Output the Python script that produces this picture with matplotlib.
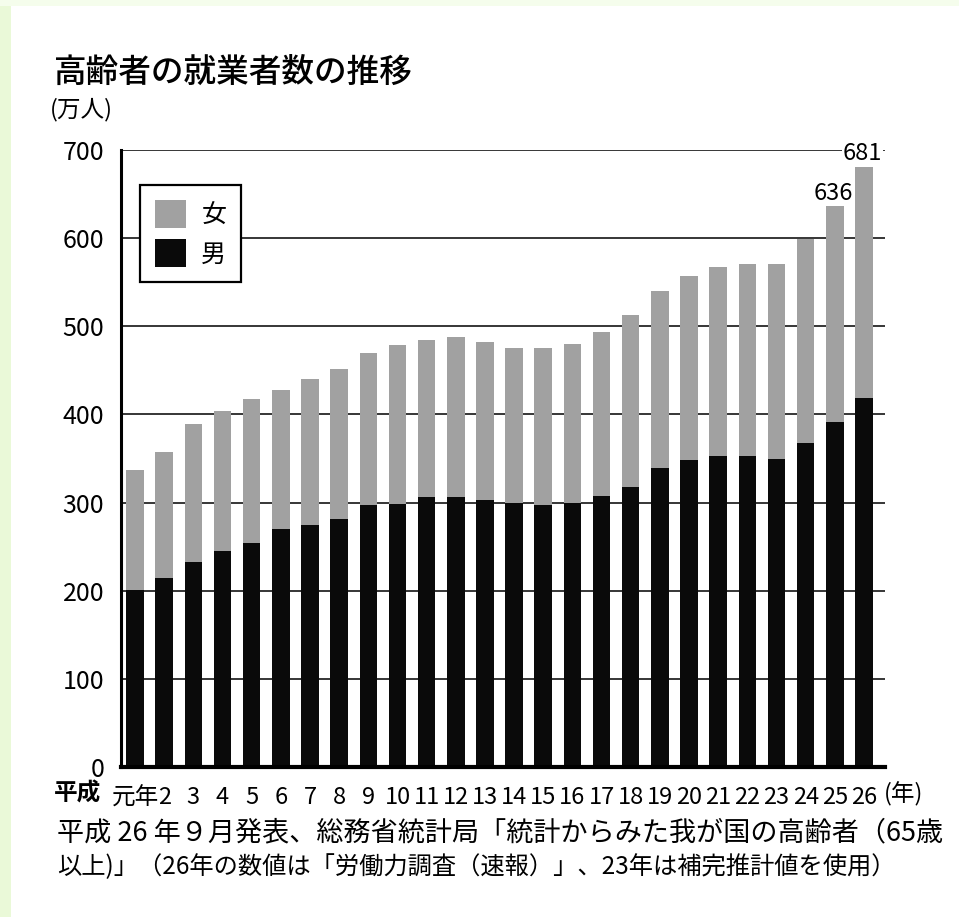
import matplotlib
matplotlib.use("Agg")
import matplotlib.pyplot as plt
from matplotlib.patches import Patch, Rectangle

plt.rcParams["font.family"] = ["Noto Sans CJK JP", "DejaVu Sans"]

# 平成元年〜26年 高齢者(65歳以上)の就業者数（万人）
years = ["元年", "2", "3", "4", "5", "6", "7", "8", "9", "10", "11", "12", "13",
         "14", "15", "16", "17", "18", "19", "20", "21", "22", "23", "24", "25", "26"]
male = [201, 214, 233, 245, 254, 270, 274, 281, 297, 298, 306, 306, 303,
        300, 297, 300, 307, 318, 339, 348, 353, 353, 349, 368, 391, 419]
female = [136, 143, 156, 159, 163, 158, 166, 171, 173, 181, 178, 182, 179,
          175, 178, 180, 187, 195, 201, 209, 214, 218, 222, 231, 245, 262]
labelled = {24: "636", 25: "681"}

GREY = "#a1a1a1"
BLACK = "#0a0a0a"

fig = plt.figure(figsize=(9.59, 9.17), dpi=100)
fig.patch.set_facecolor("white")
# 左端・上端の淡い緑の縁
fig.add_artist(Rectangle((0, 0), 11 / 959, 1, transform=fig.transFigure,
                         facecolor="#eaf9d8", edgecolor="none"))
fig.add_artist(Rectangle((0, 1 - 6 / 917), 1, 6 / 917, transform=fig.transFigure,
                         facecolor="#f5fdec", edgecolor="none"))

ax = fig.add_axes([121 / 959, 1 - 767 / 917, (885 - 121) / 959, (767 - 150) / 917])
x = list(range(len(years)))
ax.bar(x, male, width=0.6, color=BLACK, zorder=2)
ax.bar(x, female, width=0.6, bottom=male, color=GREY, zorder=2)

ax.set_xlim(-0.48, 25.72)
ax.set_ylim(0, 700)
ax.set_yticks(range(0, 701, 100))
ax.set_yticklabels([str(v) for v in range(0, 701, 100)], fontsize=18)
ax.yaxis.grid(True, color="black", lw=1.1, zorder=0)
ax.set_axisbelow(True)
ax.tick_params(axis="y", length=0, pad=12)
ax.set_xticks(x)
ax.set_xticklabels(years, fontsize=17)
ax.tick_params(axis="x", length=0, pad=14)

for s in ["top", "right"]:
    ax.spines[s].set_visible(False)
ax.spines["left"].set_linewidth(2.2)
ax.spines["bottom"].set_linewidth(3.0)

for i, txt in labelled.items():
    tot = male[i] + female[i]
    ax.text(i - 0.05, tot + 2, txt, ha="center", va="bottom", fontsize=17,
            bbox=dict(facecolor="white", edgecolor="none", pad=0.5), zorder=3)

leg = ax.legend(handles=[Patch(facecolor=GREY, label="女"),
                         Patch(facecolor=BLACK, label="男")],
                loc="upper left", bbox_to_anchor=(0.025, 0.943), borderaxespad=0,
                fontsize=18, handlelength=1.25, handleheight=1.35,
                handletextpad=0.6, labelspacing=0.42, borderpad=0.6,
                fancybox=False, edgecolor="black", framealpha=1)
leg.get_frame().set_linewidth(1.6)

fig.text(54 / 959, 1 - 72 / 917, "高齢者の就業者数の推移", fontsize=23.5,
         fontweight="medium", va="center", ha="left")
fig.text(50 / 959, 1 - 110 / 917, "(万人)", fontsize=17, va="center", ha="left")
fig.text(54 / 959, 1 - 794 / 917, "平成", fontsize=17, fontweight="bold",
         va="center", ha="left")
fig.text(884 / 959, 1 - 794 / 917, "(年)", fontsize=17, va="center", ha="left")
fig.text(57 / 959, 1 - 833 / 917,
         "平成 26 年９月発表、総務省統計局「統計からみた我が国の高齢者（65歳",
         fontsize=19.5, va="center", ha="left")
fig.text(57 / 959, 1 - 867 / 917,
         "以上)」（26年の数値は「労働力調査（速報）」、23年は補完推計値を使用）",
         fontsize=17.5, va="center", ha="left")

fig.savefig("out.png", dpi=100, facecolor=fig.get_facecolor())
